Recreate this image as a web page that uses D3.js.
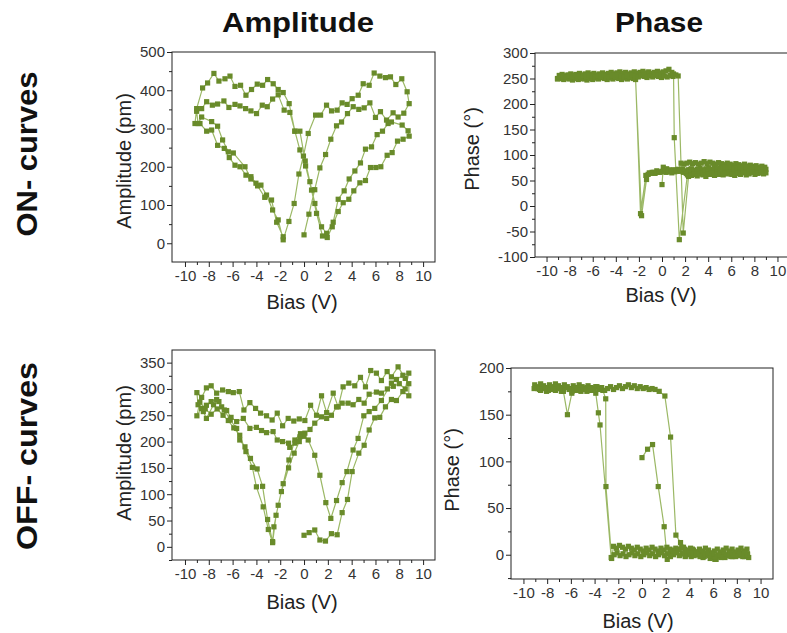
<!DOCTYPE html>
<html>
<head>
<meta charset="utf-8">
<script src="https://cdn.jsdelivr.net/npm/d3@7"></script>
<style>
  body { margin: 0; background: #fff; }
  svg { font-family: "Liberation Sans", Arial, sans-serif; }
  .tick-label { font-size: 15px; fill: #333; }
  .axis-title { font-size: 20px; fill: #222; }
  .big { font-weight: bold; fill: #111; }
</style>
</head>
<body>
<svg id="chart" width="787" height="633"></svg>
<script>
// ---- data: [bias (V), value] in sweep order ----

// ON- curves, amplitude (pm)
var onAmpSweep1 = [[0,22],[0.41,76],[0.9,140],[1.33,197],[1.81,232],[2.25,272],[2.73,307],[3.15,317],[3.65,339],[4.13,357],[4.6,350],[5.05,354],[5.53,367],[6.0,329],[6.42,344],[6.93,322],[7.48,341],[7.9,330],[8.38,340]];
var onAmpSweep2 = [[8.83,365],[8.66,396],[8.21,430],[7.71,415],[7.26,435],[6.84,433],[6.37,437],[5.89,445],[5.47,413],[4.97,417],[4.55,387],[4.04,378],[3.62,363],[3.2,367],[2.78,348],[2.31,346],[1.89,361],[1.39,335],[0.97,335],[0.35,287],[-0.05,228],[-0.43,181],[-0.83,104],[-1.27,57],[-1.75,9]];
var onAmpSweep3 = [[-2.17,61],[-2.64,87],[-3.15,126],[-3.62,152],[-4.04,157],[-4.46,174],[-4.88,178],[-5.38,200],[-5.8,204],[-6.28,224],[-6.7,248],[-7.26,256],[-7.76,296],[-8.18,293],[-8.74,313],[-9.16,313]];
var onAmpSweep4 = [[-9.02,352],[-8.52,406],[-8.1,419],[-7.57,444],[-7.15,424],[-6.64,430],[-6.22,437],[-5.8,410],[-5.33,413],[-4.88,387],[-4.41,402],[-3.93,416],[-3.48,413],[-3.06,428],[-2.59,417],[-2.17,402],[-1.75,394],[-1.25,365],[-0.77,293],[-0.35,244],[0.13,202],[0.63,139],[1.05,78],[1.55,19],[1.95,15]];
var onAmpSweep5 = [[2.37,43],[2.87,83],[3.29,106],[3.76,115],[4.18,137],[4.69,158],[5.16,164],[5.58,198],[6.03,198],[6.45,200],[6.98,230],[7.4,237],[7.85,267],[8.32,272],[8.83,280]];
var onAmpSweep6 = [[8.74,294],[8.24,309],[7.34,317],[7.06,313],[6.59,293],[6.14,284],[5.67,252],[5.16,246],[4.74,210],[4.27,189],[3.79,168],[3.37,137],[2.87,115],[2.45,55],[1.9,26],[1.47,43]];
var onAmpSweep7 = [[0.91,104],[0.49,161],[0.1,215],[-0.35,293],[-0.77,293],[-1.19,342],[-1.67,348],[-2.17,388],[-2.64,377],[-3.09,357],[-3.51,361],[-3.99,339],[-4.46,346],[-4.91,352],[-5.38,359],[-5.8,363],[-6.31,355],[-6.73,372],[-7.26,364],[-7.7,361],[-8.18,370],[-8.6,352],[-9.02,345]];
var onAmpSweep8 = [[-8.9,313],[-8.6,330],[-7.76,318],[-7.26,306],[-6.84,270],[-6.36,239],[-5.94,236],[-4.96,200],[-4.46,168],[-3.9,150],[-3.3,120],[-2.73,113],[-2.3,55],[-1.75,17]];

// ON- curves, phase (deg)
var onPhSweep1 = [[0,42],[0.11,76],[0.35,66],[0.6,68],[0.85,65],[1.1,67],[1.35,70],[1.6,68],[1.85,66],[2.1,64],[2.35,67],[2.6,65],[2.85,68],[3.1,70],[3.35,67],[3.6,65],[3.85,68],[4.1,66],[4.35,69],[4.6,71],[4.85,67],[5.1,65],[5.35,68],[5.6,70],[5.85,66],[6.1,64],[6.35,67],[6.6,69],[6.85,72],[7.1,68],[7.35,66],[7.6,69],[7.85,71],[8.1,67],[8.35,65],[8.6,68],[8.85,70],[9.0,72]];
var onPhSweep2 = [[8.9,76],[8.65,78],[8.4,75],[8.15,79],[7.9,77],[7.65,80],[7.4,78],[7.15,82],[6.9,79],[6.65,81],[6.4,83],[6.15,80],[5.9,82],[5.65,84],[5.4,81],[5.15,83],[4.9,85],[4.65,82],[4.4,84],[4.15,86],[3.9,83],[3.65,87],[3.4,84],[3.15,82],[2.9,85],[2.65,83],[2.4,86],[2.15,84],[1.9,82],[1.65,84],[1.4,72],[1.15,70],[0.9,68],[0.65,71],[0.4,73],[0.15,69],[-0.1,67],[-0.35,66],[-0.6,64],[-0.85,66],[-1.1,65],[-1.34,52],[-1.77,-19],[-2.29,248],[-2.55,253],[-2.8,255],[-3.05,252],[-3.3,257],[-3.55,254],[-3.8,256],[-4.05,253],[-4.3,258],[-4.55,255],[-4.8,252],[-5.05,256],[-5.3,253],[-5.55,251],[-5.8,255],[-6.05,252],[-6.3,254],[-6.55,251],[-6.8,253],[-7.05,250],[-7.3,254],[-7.55,252],[-7.8,250],[-8.05,253],[-8.3,251],[-8.55,249],[-8.8,252],[-9.05,250]];
var onPhSweep3 = [[-8.9,256],[-8.65,258],[-8.4,255],[-8.15,257],[-7.9,259],[-7.65,256],[-7.4,258],[-7.15,260],[-6.9,257],[-6.65,259],[-6.4,261],[-6.15,258],[-5.9,260],[-5.65,257],[-5.4,259],[-5.15,261],[-4.9,258],[-4.65,260],[-4.4,262],[-4.15,259],[-3.9,261],[-3.65,263],[-3.4,260],[-3.15,262],[-2.9,259],[-2.65,261],[-2.4,263],[-2.15,260],[-1.9,262],[-1.65,264],[-1.4,261],[-1.15,263],[-0.9,260],[-0.65,262],[-0.4,264],[-0.15,261],[0.1,263],[0.35,265],[0.6,268],[0.85,262],[1.0,259],[1.06,134],[1.5,-66],[2.2,61],[2.45,72],[2.7,66],[2.95,62],[3.2,65],[3.45,63],[3.7,66],[3.95,64],[4.2,62],[4.45,66],[4.7,68],[4.95,64],[5.2,62],[5.45,65],[5.7,67],[5.95,63],[6.2,66],[6.45,68],[6.7,64],[6.95,66],[7.2,69],[7.45,65],[7.7,67],[7.95,70],[8.2,66],[8.45,68],[8.7,71],[8.95,67]];
var onPhSweep4 = [[8.8,74],[8.55,76],[8.3,73],[8.05,77],[7.8,75],[7.55,73],[7.3,78],[7.05,76],[6.8,74],[6.55,77],[6.3,75],[6.05,73],[5.8,76],[5.55,74],[5.3,77],[5.05,75],[4.8,73],[4.55,76],[4.3,72],[4.05,75],[3.8,73],[3.55,71],[3.3,74],[3.05,72],[2.8,70],[2.55,73],[2.3,71],[2.05,69],[1.8,72],[1.55,70],[1.3,68],[1.05,71],[0.8,69],[0.55,67],[0.3,70],[0.05,68],[-0.2,66],[-0.45,69],[-0.7,66],[-0.95,64],[-1.2,62],[-1.4,60],[-1.86,-15],[-2.29,253],[-2.5,250],[-2.75,252],[-3.0,249],[-3.25,251],[-3.5,248],[-3.75,250],[-4.0,252],[-4.25,249],[-4.5,251],[-4.75,248],[-5.0,250],[-5.25,252],[-5.5,249],[-5.75,251],[-6.0,248],[-6.25,250],[-6.5,247],[-6.75,249],[-7.0,251],[-7.25,248],[-7.5,250],[-7.75,247],[-8.0,249],[-8.25,251],[-8.5,248],[-8.75,250],[-9.05,249]];
var onPhSweep5 = [[-8.8,254],[-8.55,255],[-8.3,253],[-8.05,256],[-7.8,254],[-7.55,257],[-7.3,255],[-7.05,253],[-6.8,256],[-6.55,254],[-6.3,257],[-6.05,255],[-5.8,253],[-5.55,256],[-5.3,254],[-5.05,257],[-4.8,255],[-4.55,253],[-4.3,256],[-4.05,254],[-3.8,257],[-3.55,255],[-3.3,253],[-3.05,256],[-2.8,254],[-2.55,257],[-2.3,255],[-2.05,253],[-1.8,256],[-1.55,254],[-1.3,252],[-1.05,255],[-0.8,253],[-0.55,256],[-0.3,254],[-0.05,252],[0.2,255],[0.45,253],[0.7,256],[0.95,254],[1.2,257],[1.4,255],[1.84,-53],[2.3,58],[2.55,60],[2.8,62],[3.05,59],[3.3,63],[3.55,61],[3.8,58],[4.05,62],[4.3,64],[4.55,60],[4.8,62],[5.05,65],[5.3,61],[5.55,63],[5.8,66],[6.05,62],[6.3,60],[6.55,64],[6.8,62],[7.05,65],[7.3,61],[7.55,63],[7.8,66],[8.05,62],[8.3,64],[8.55,67],[8.8,63],[9.0,65]];

// OFF- curves, amplitude (pm)
var offAmpSweep1 = [[0,22],[0.43,27],[0.9,32],[1.33,13],[1.8,11],[2.3,25],[2.78,23],[3.2,65],[3.65,90],[4.04,143],[4.6,178],[5.05,193],[5.47,222],[5.94,245],[6.36,246],[6.84,266],[7.34,280],[7.76,278],[8.3,295],[8.8,287]];
var offAmpSweep2 = [[8.8,310],[8.5,320],[7.9,342],[7.34,323],[6.98,333],[6.5,316],[6.08,330],[5.6,335],[5.16,304],[4.74,322],[4.26,306],[3.76,311],[3.28,304],[2.87,266],[2.45,292],[1.9,255],[1.47,287],[1.05,250],[0.55,269],[0.07,240],[-0.4,243],[-0.86,239],[-1.33,244],[-1.8,230],[-2.25,254],[-2.68,241],[-3.15,249],[-3.65,254],[-4.07,263],[-4.55,274],[-5.05,260],[-5.44,295],[-5.94,293],[-6.36,295],[-6.84,298],[-7.34,292],[-7.8,306],[-8.2,302],[-8.6,284],[-9.0,293]];
var offAmpSweep3 = [[-8.9,270],[-8.46,257],[-8.2,244],[-7.6,270],[-7.15,276],[-6.7,260],[-6.2,241],[-5.66,225],[-5.4,203],[-4.96,190],[-4.5,168],[-3.94,148],[-3.48,115],[-3.06,52],[-2.64,10],[-2.53,38],[-2.17,79],[-1.75,120],[-1.27,165],[-0.77,203],[-0.3,215],[0.07,216],[0.5,223],[0.9,235],[1.47,247],[1.9,244],[2.3,250],[2.73,266],[3.2,273],[3.7,273],[4.12,270],[4.6,280],[5.05,273],[5.47,290],[6.08,294],[6.5,292],[7.0,300],[7.5,305],[8.0,310],[8.5,300],[8.8,330]];
var offAmpSweep4 = [[8.3,326],[7.76,318],[7.34,311],[6.5,278],[5.94,263],[5.47,257],[5.02,249],[4.54,206],[4.12,184],[3.6,143],[3.2,122],[2.73,88],[2.25,54],[1.83,84],[1.33,136],[0.9,174],[0.35,203],[0.0,210],[-0.35,209],[-0.77,197],[-1.2,189],[-1.3,197],[-1.8,200],[-2.25,203],[-2.6,219],[-3.15,217],[-3.57,221],[-4.0,227],[-4.55,225],[-5.1,244],[-5.66,238],[-6.13,246],[-6.5,259],[-6.92,266],[-7.34,280],[-7.8,276],[-8.2,269],[-8.6,263],[-9.0,249]];
var offAmpSweep5 = [[-8.75,275],[-8.3,262],[-7.8,252],[-7.3,262],[-6.8,250],[-6.36,240],[-5.9,226],[-5.4,212],[-4.88,181],[-4.34,151],[-4.0,114],[-3.43,76],[-3.0,33],[-2.64,8],[-2.35,60],[-1.9,105],[-1.3,150],[-0.83,178],[-0.4,200]];

// OFF- curves, phase (deg)
var offPhSweep1 = [[0,104],[0.47,113],[0.89,118],[1.37,73],[1.87,30],[2.13,-5],[2.4,2],[2.65,5],[2.9,3],[3.15,6],[3.4,1],[3.65,-1],[3.9,2],[4.15,-2],[4.4,1],[4.65,3],[4.9,-1],[5.15,-3],[5.4,0],[5.65,2],[5.9,-3],[6.15,-5],[6.4,-2],[6.65,0],[6.9,2],[7.15,-1],[7.4,1],[7.65,-2],[7.9,2],[8.15,3],[8.4,0],[8.65,-2],[8.9,1]];
var offPhSweep2 = [[8.85,6],[8.6,4],[8.35,7],[8.1,5],[7.85,3],[7.6,6],[7.35,4],[7.1,7],[6.85,5],[6.6,3],[6.35,6],[6.1,4],[5.85,2],[5.6,5],[5.35,7],[5.1,4],[4.85,6],[4.6,3],[4.35,5],[4.1,7],[3.85,4],[3.6,6],[3.35,8],[3.1,5],[2.85,7],[2.6,4],[2.35,6],[2.1,8],[1.85,5],[1.6,7],[1.35,4],[1.1,6],[0.85,8],[0.6,5],[0.35,7],[0.1,4],[-0.15,6],[-0.4,8],[-0.65,5],[-0.9,7],[-1.15,9],[-1.4,6],[-1.65,8],[-1.9,10],[-2.15,7],[-2.4,9],[-2.56,-4],[-3.04,73],[-3.06,167],[-3.3,176],[-3.55,178],[-3.8,180],[-4.05,177],[-4.3,179],[-4.55,181],[-4.8,178],[-5.05,180],[-5.3,182],[-5.55,179],[-5.8,181],[-6.05,178],[-6.3,180],[-6.55,182],[-6.8,179],[-7.05,181],[-7.3,183],[-7.55,180],[-7.8,182],[-8.05,179],[-8.3,181],[-8.55,183],[-8.8,180],[-9.05,182]];
var offPhSweep3 = [[-8.8,178],[-8.55,176],[-8.3,178],[-8.05,175],[-7.8,177],[-7.55,179],[-7.3,176],[-7.05,178],[-6.8,175],[-6.63,175],[-6.29,150],[-5.92,173],[-5.65,176],[-5.4,178],[-5.15,175],[-4.9,177],[-4.65,179],[-4.4,176],[-4.15,178],[-3.9,180],[-3.65,177],[-3.4,179],[-3.15,176],[-2.9,178],[-2.65,180],[-2.4,177],[-2.15,179],[-1.9,181],[-1.65,178],[-1.4,180],[-1.15,182],[-0.9,179],[-0.65,181],[-0.4,178],[-0.15,180],[0.1,178],[0.35,179],[0.6,177],[0.85,178],[1.1,177],[1.45,175],[1.93,170],[2.41,126],[2.86,21],[3.25,13],[3.5,8],[3.75,5],[4.0,3],[4.25,6],[4.5,2],[4.75,0],[5.0,3],[5.25,-2],[5.5,1],[5.75,-4],[6.0,-1],[6.25,-5],[6.5,-2],[6.75,1],[7.0,-3],[7.25,0],[7.5,-2],[7.75,1],[8.0,-1],[8.25,2],[8.5,-2],[8.75,0],[9.0,-3]];
var offPhSweep4 = [[8.9,0],[8.65,2],[8.4,-1],[8.15,1],[7.9,-2],[7.65,0],[7.4,2],[7.15,-1],[6.9,1],[6.65,-3],[6.4,0],[6.15,-2],[5.9,1],[5.65,-1],[5.4,2],[5.15,0],[4.9,-2],[4.65,1],[4.4,-1],[4.15,2],[3.9,0],[3.65,-2],[3.4,1],[3.15,-1],[2.9,2],[2.65,0],[2.4,-2],[2.15,1],[1.9,-1],[1.65,2],[1.4,0],[1.15,-2],[0.9,1],[0.65,-1],[0.4,2],[0.15,0],[-0.1,-2],[-0.35,1],[-0.6,-1],[-0.85,2],[-1.1,0],[-1.35,-2],[-1.6,1],[-1.85,-1],[-2.1,2],[-2.35,0],[-2.6,-3],[-3.54,139],[-3.68,152],[-3.9,173],[-4.15,176],[-4.4,178],[-4.65,175],[-4.9,177],[-5.15,179],[-5.4,176],[-5.65,178],[-5.9,175],[-6.15,177],[-6.4,179],[-6.65,176],[-6.9,178],[-7.15,180],[-7.4,177],[-7.65,179],[-7.9,176],[-8.15,178],[-8.4,180],[-8.65,177],[-8.9,179],[-9.1,178]];

var biasTicks = [-10, -8, -6, -4, -2, 0, 2, 4, 6, 8, 10];
var biasMinor = [-9, -7, -5, -3, -1, 1, 3, 5, 7, 9];
var onAmpTicks = [0, 100, 200, 300, 400, 500];
var onPhTicks = [-100, -50, 0, 50, 100, 150, 200, 250, 300];
var offAmpTicks = [0, 50, 100, 150, 200, 250, 300, 350];
var offPhTicks = [0, 50, 100, 150, 200];

var markerColor = "#698b2a";
var lineColor = "#9bb865";

var svg = d3.select("#chart");

// column and row headings
svg.append("text").attr("class", "big").attr("x", 222).attr("y", 32)
    .attr("font-size", 28).attr("textLength", 152).attr("lengthAdjust", "spacingAndGlyphs")
    .text("Amplitude");
svg.append("text").attr("class", "big").attr("x", 615).attr("y", 32)
    .attr("font-size", 28).attr("textLength", 88).attr("lengthAdjust", "spacingAndGlyphs")
    .text("Phase");
svg.append("text").attr("class", "big")
    .attr("transform", "translate(37,154) rotate(-90)").attr("text-anchor", "middle")
    .attr("font-size", 30).attr("textLength", 165).attr("lengthAdjust", "spacingAndGlyphs")
    .text("ON- curves");
svg.append("text").attr("class", "big")
    .attr("transform", "translate(37,456) rotate(-90)").attr("text-anchor", "middle")
    .attr("font-size", 30).attr("textLength", 188).attr("lengthAdjust", "spacingAndGlyphs")
    .text("OFF- curves");

var panels = [
  { sweeps: [onAmpSweep1, onAmpSweep2, onAmpSweep3, onAmpSweep4, onAmpSweep5, onAmpSweep6, onAmpSweep7, onAmpSweep8],
    left: 172, right: 435, top: 52, bottom: 262, xDomain: [-11.09, 11.0], yDomain: [-49, 500],
    yTicks: onAmpTicks, yStep: 50, yTitle: "Amplitude (pm)", yTitleX: 131, yTitleY: 161, xTitleX: 302, xTitleY: 309 },
  { sweeps: [onPhSweep1, onPhSweep2, onPhSweep3, onPhSweep4, onPhSweep5],
    left: 535, right: 789, top: 53, bottom: 257, xDomain: [-11, 11], yDomain: [-100, 300],
    yTicks: onPhTicks, yStep: 25, yTitle: "Phase (°)", yTitleX: 479, yTitleY: 149, xTitleX: 661, xTitleY: 302 },
  { sweeps: [offAmpSweep1, offAmpSweep2, offAmpSweep3, offAmpSweep4, offAmpSweep5],
    left: 172, right: 435, top: 350, bottom: 560, xDomain: [-11.09, 11.0], yDomain: [-25, 374],
    yTicks: offAmpTicks, yStep: 25, yTitle: "Amplitude (pm)", yTitleX: 131, yTitleY: 453, xTitleX: 302, xTitleY: 609 },
  { sweeps: [offPhSweep1, offPhSweep2, offPhSweep3, offPhSweep4],
    left: 511, right: 773, top: 368, bottom: 579, xDomain: [-11.05, 11.05], yDomain: [-26, 200],
    yTicks: offPhTicks, yStep: 25, yTitle: "Phase (°)", yTitleX: 459, yTitleY: 470, xTitleX: 638, xTitleY: 628 }
];

panels.forEach(function(p) {
  var x = d3.scaleLinear().domain(p.xDomain).range([p.left, p.right]);
  var y = d3.scaleLinear().domain(p.yDomain).range([p.bottom, p.top]);
  var g = svg.append("g");

  // minor y ticks between the majors
  var yMinor = [];
  for (var v = Math.ceil(p.yDomain[0] / p.yStep) * p.yStep; v <= p.yDomain[1]; v += p.yStep) {
    if (p.yTicks.indexOf(v) < 0) yMinor.push(v);
  }

  var xAxis = d3.axisBottom(x).tickValues(biasTicks).tickSize(5).tickPadding(3).tickFormat(d => String(d));
  var xMinorAxis = d3.axisBottom(x).tickValues(biasMinor).tickSize(3).tickFormat("");
  var yAxis = d3.axisLeft(y).tickValues(p.yTicks).tickSize(5).tickPadding(2).tickFormat(d => String(d));
  var yMinorAxis = d3.axisLeft(y).tickValues(yMinor).tickSize(3).tickFormat("");

  [[xAxis, "x"], [xMinorAxis, "x"], [yAxis, "y"], [yMinorAxis, "y"]].forEach(function(a) {
    var ag = g.append("g")
      .attr("transform", a[1] == "x" ? `translate(0,${p.bottom})` : `translate(${p.left},0)`)
      .call(a[0]);
    ag.select(".domain").remove();
    ag.selectAll(".tick line").attr("stroke", "#222");
    ag.selectAll(".tick text").attr("class", "tick-label").attr("font-family", null).attr("font-size", null).attr("fill", null);
  });

  // frame
  g.append("rect")
    .attr("x", p.left).attr("y", p.top)
    .attr("width", p.right - p.left).attr("height", p.bottom - p.top)
    .attr("fill", "none").attr("stroke", "#222").attr("stroke-width", 1);

  var pts = [].concat.apply([], p.sweeps);
  var line = d3.line().x(d => x(d[0])).y(d => y(d[1]));

  g.append("path").datum(pts)
    .attr("d", line).attr("fill", "none")
    .attr("stroke", lineColor).attr("stroke-width", 1.2);

  g.selectAll("rect.pt").data(pts).enter().append("rect")
    .attr("class", "pt")
    .attr("x", d => x(d[0]) - 2.6).attr("y", d => y(d[1]) - 2.6)
    .attr("width", 5.2).attr("height", 5.2)
    .attr("fill", markerColor);

  g.append("text").attr("class", "axis-title")
    .attr("x", p.xTitleX).attr("y", p.xTitleY).attr("text-anchor", "middle")
    .text("Bias (V)");
  g.append("text").attr("class", "axis-title")
    .attr("transform", `translate(${p.yTitleX},${p.yTitleY}) rotate(-90)`)
    .attr("text-anchor", "middle")
    .text(p.yTitle);
});
</script>
</body>
</html>
